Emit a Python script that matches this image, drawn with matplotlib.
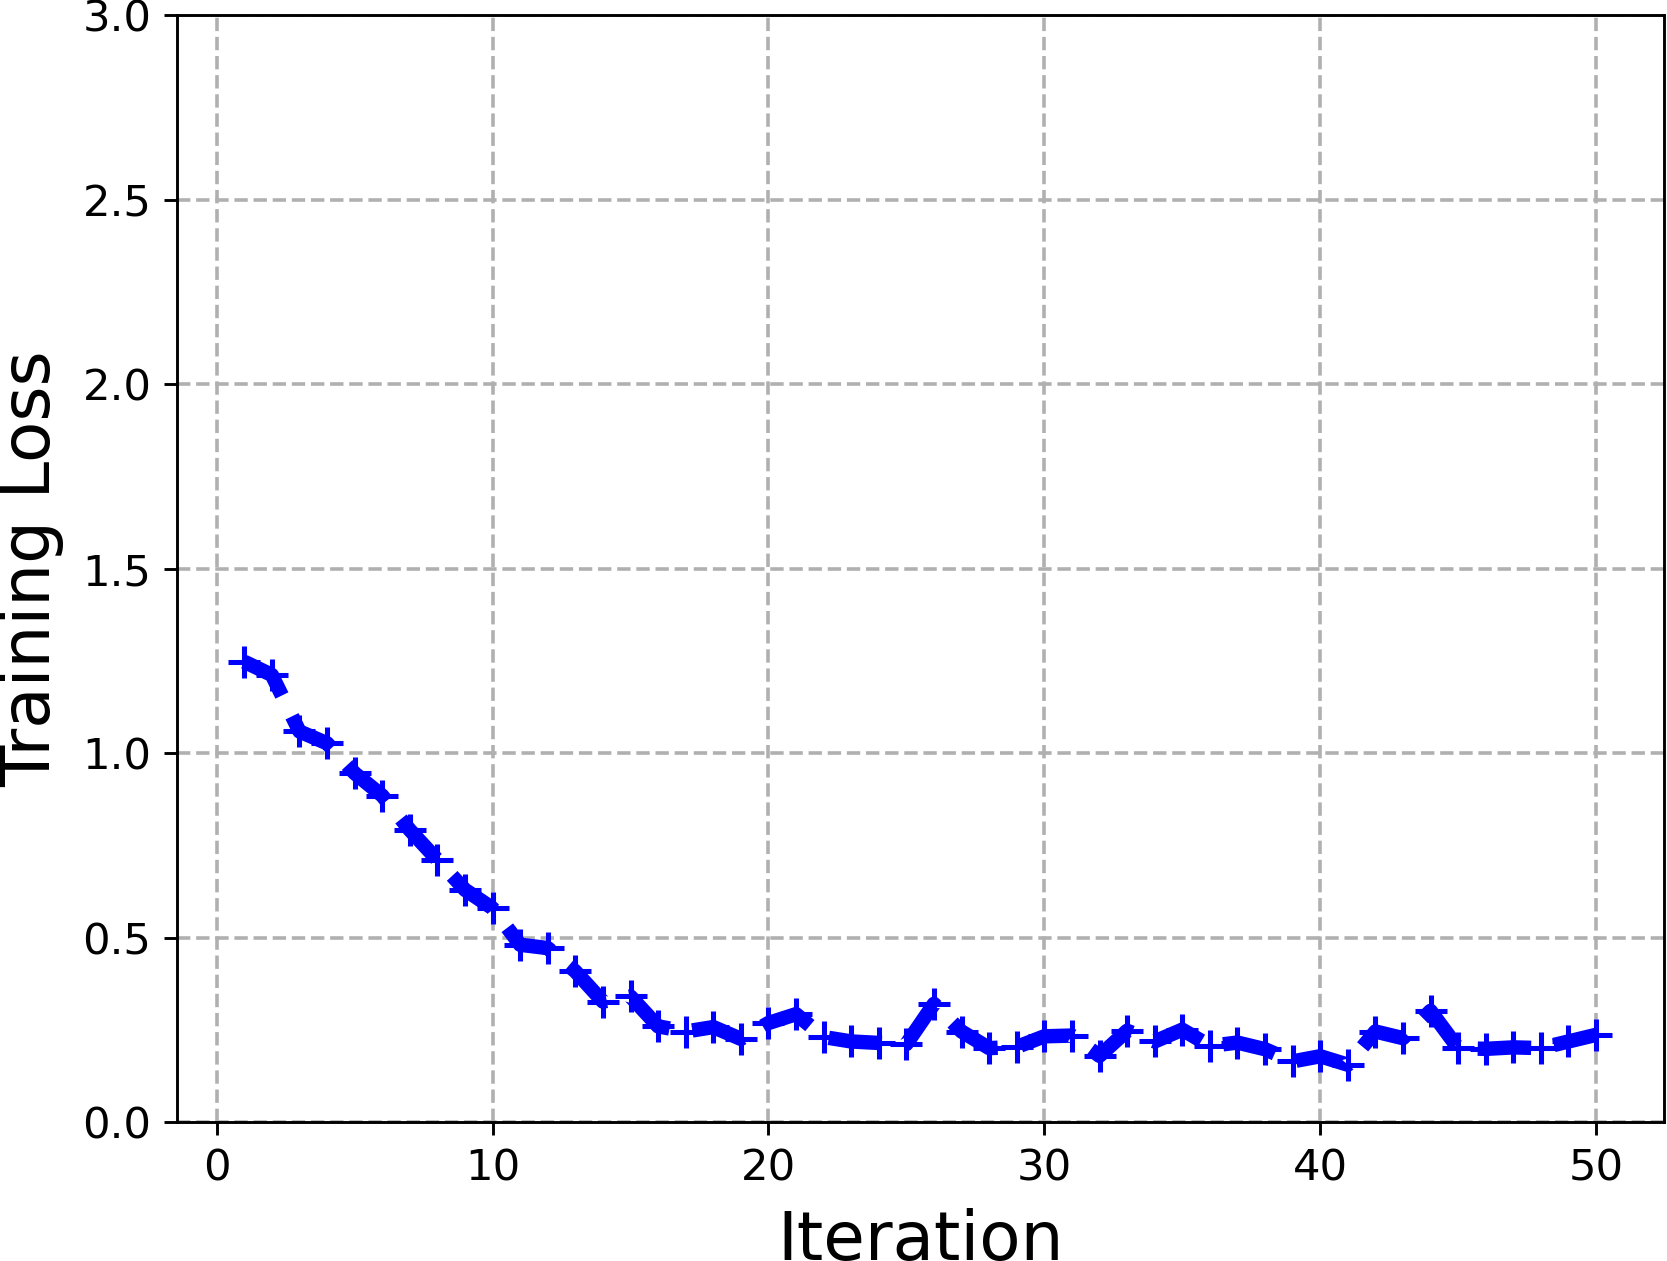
import matplotlib.pyplot as plt

iterations = list(range(1, 51))
loss = [1.248, 1.212, 1.059, 1.027, 0.946, 0.885, 0.792, 0.711, 0.630, 0.580,
        0.481, 0.472, 0.409, 0.327, 0.341, 0.260, 0.246, 0.258, 0.226, 0.269,
        0.293, 0.231, 0.219, 0.215, 0.212, 0.321, 0.246, 0.201, 0.204, 0.233,
        0.235, 0.180, 0.248, 0.219, 0.251, 0.207, 0.216, 0.198, 0.165, 0.179,
        0.156, 0.246, 0.228, 0.302, 0.201, 0.199, 0.203, 0.201, 0.219, 0.237]

dpi = 260
fig, ax = plt.subplots(figsize=(1667 / dpi, 1261 / dpi), dpi=dpi)
fig.subplots_adjust(left=0.106, right=0.998, top=0.988, bottom=0.110)

ax.plot(iterations, loss, color='blue', linestyle='--', linewidth=4,
        marker='+', markersize=9, markeredgewidth=1.4)

ax.set_ylim(0, 3.0)
ax.set_yticks([0.0, 0.5, 1.0, 1.5, 2.0, 2.5, 3.0])
ax.set_xticks([0, 10, 20, 30, 40, 50])
ax.grid(True, linestyle='--', color='#b0b0b0', linewidth=1.0)
ax.tick_params(labelsize=12)

ax.set_xlabel('Iteration', fontsize=18.7, labelpad=5)
ax.set_ylabel('Training Loss', fontsize=18.7, labelpad=5)

fig.savefig('out.png', dpi=dpi)
